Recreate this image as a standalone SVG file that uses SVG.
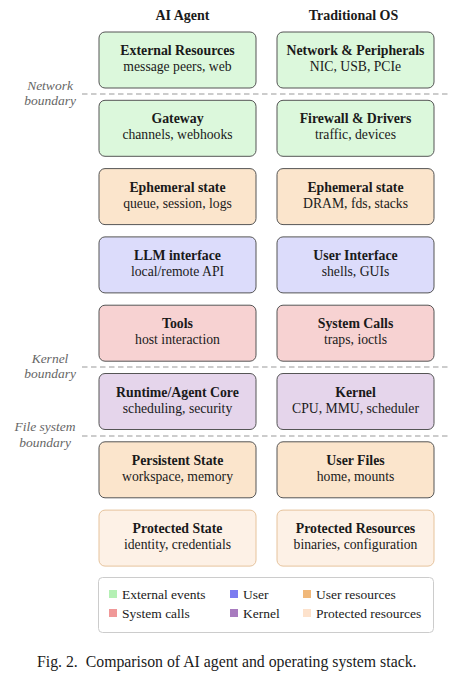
<svg xmlns="http://www.w3.org/2000/svg" width="450" height="680" viewBox="0 0 450 680">
<style>
text{font-family:"Liberation Serif","Times New Roman",serif;fill:#1a1a1a}
.hdr{font-size:14px;font-weight:bold;text-anchor:middle}
.t{font-size:13.8px;font-weight:bold;text-anchor:middle}
.s{font-size:13.7px;text-anchor:middle}
.bl{font-size:13.5px;font-style:italic;fill:#666;text-anchor:middle}
.box{stroke:#555;stroke-width:1}
.g{fill:#dcf8dc}.o{fill:#fbe5cc}.b{fill:#dcdcfb}.r{fill:#f7d2d2}.p{fill:#e5d5eb}
.pr{fill:#fdf1e6;stroke:#e6c39c;stroke-width:1}
.dash{stroke:#999;stroke-width:1;stroke-dasharray:5.5,3.5;fill:none}
.lg{font-size:13.5px}
</style>
<rect width="450" height="680" fill="#fff"/>
<text class="hdr" x="182.5" y="20">AI Agent</text>
<text class="hdr" x="353.5" y="20">Traditional OS</text>

<g id="connectors">
<line class="dash" x1="82" y1="94" x2="450" y2="94"/>
<line class="dash" x1="82" y1="367" x2="450" y2="367"/>
<line class="dash" x1="82" y1="436" x2="450" y2="436"/>
</g>
<g id="boundary-labels">
<text class="bl" x="50" y="90">Network</text>
<text class="bl" x="50" y="105">boundary</text>
<text class="bl" x="50" y="363">Kernel</text>
<text class="bl" x="50" y="378">boundary</text>
<text class="bl" x="45" y="431">File system</text>
<text class="bl" x="45" y="446.5">boundary</text>
</g>

<g id="ext-res"><rect class="box g" x="99" y="32" width="157" height="56" rx="6"/><text class="t" x="177.5" y="55">External Resources</text><text class="s" x="177.5" y="71">message peers, web</text></g>
<g id="net-periph"><rect class="box g" x="277" y="32" width="157" height="56" rx="6"/><text class="t" x="355.5" y="55">Network &amp; Peripherals</text><text class="s" x="355.5" y="71">NIC, USB, PCIe</text></g>

<g id="gateway"><rect class="box g" x="99" y="100.3" width="157" height="56" rx="6"/><text class="t" x="177.5" y="123.3">Gateway</text><text class="s" x="177.5" y="139.3">channels, webhooks</text></g>
<g id="firewall"><rect class="box g" x="277" y="100.3" width="157" height="56" rx="6"/><text class="t" x="355.5" y="123.3">Firewall &amp; Drivers</text><text class="s" x="355.5" y="139.3">traffic, devices</text></g>

<g id="eph-agent"><rect class="box o" x="99" y="168.6" width="157" height="56" rx="6"/><text class="t" x="177.5" y="191.6">Ephemeral state</text><text class="s" x="177.5" y="207.6">queue, session, logs</text></g>
<g id="eph-os"><rect class="box o" x="277" y="168.6" width="157" height="56" rx="6"/><text class="t" x="355.5" y="191.6">Ephemeral state</text><text class="s" x="355.5" y="207.6">DRAM, fds, stacks</text></g>

<g id="llm"><rect class="box b" x="99" y="236.9" width="157" height="56" rx="6"/><text class="t" x="177.5" y="259.9">LLM interface</text><text class="s" x="177.5" y="275.9">local/remote API</text></g>
<g id="ui"><rect class="box b" x="277" y="236.9" width="157" height="56" rx="6"/><text class="t" x="355.5" y="259.9">User Interface</text><text class="s" x="355.5" y="275.9">shells, GUIs</text></g>

<g id="tools"><rect class="box r" x="99" y="305.2" width="157" height="56" rx="6"/><text class="t" x="177.5" y="328.2">Tools</text><text class="s" x="177.5" y="344.2">host interaction</text></g>
<g id="syscalls"><rect class="box r" x="277" y="305.2" width="157" height="56" rx="6"/><text class="t" x="355.5" y="328.2">System Calls</text><text class="s" x="355.5" y="344.2">traps, ioctls</text></g>

<g id="runtime"><rect class="box p" x="99" y="373.5" width="157" height="56" rx="6"/><text class="t" x="177.5" y="396.5">Runtime/Agent Core</text><text class="s" x="177.5" y="412.5">scheduling, security</text></g>
<g id="kernel"><rect class="box p" x="277" y="373.5" width="157" height="56" rx="6"/><text class="t" x="355.5" y="396.5">Kernel</text><text class="s" x="355.5" y="412.5">CPU, MMU, scheduler</text></g>

<g id="persistent"><rect class="box o" x="99" y="441.8" width="157" height="56" rx="6"/><text class="t" x="177.5" y="464.8">Persistent State</text><text class="s" x="177.5" y="480.8">workspace, memory</text></g>
<g id="userfiles"><rect class="box o" x="277" y="441.8" width="157" height="56" rx="6"/><text class="t" x="355.5" y="464.8">User Files</text><text class="s" x="355.5" y="480.8">home, mounts</text></g>

<g id="protected-state"><rect class="pr" x="99" y="510.1" width="157" height="56" rx="6"/><text class="t" x="177.5" y="533.1">Protected State</text><text class="s" x="177.5" y="549.1">identity, credentials</text></g>
<g id="protected-res"><rect class="pr" x="277" y="510.1" width="157" height="56" rx="6"/><text class="t" x="355.5" y="533.1">Protected Resources</text><text class="s" x="355.5" y="549.1">binaries, configuration</text></g>

<g id="legend">
<rect x="98.5" y="577.5" width="335" height="55" rx="4" fill="#fff" stroke="#ccc" stroke-width="1"/>
<rect x="109" y="590" width="8" height="8" fill="#b4f0b4"/><text class="lg" x="122" y="599">External events</text>
<rect x="230" y="590" width="8" height="8" fill="#7b7bf0"/><text class="lg" x="243" y="599">User</text>
<rect x="303" y="590" width="8" height="8" fill="#f0b87a"/><text class="lg" x="316" y="599">User resources</text>
<rect x="109" y="609" width="8" height="8" fill="#f09898"/><text class="lg" x="122" y="618">System calls</text>
<rect x="230" y="609" width="8" height="8" fill="#a87bbf"/><text class="lg" x="243" y="618">Kernel</text>
<rect x="303" y="609" width="8" height="8" fill="#fde2cc"/><text class="lg" x="316" y="618">Protected resources</text>
</g>

<text x="37" y="667" xml:space="preserve" style="font-size:15.8px">Fig. 2.  Comparison of AI agent and operating system stack.</text>
</svg>
